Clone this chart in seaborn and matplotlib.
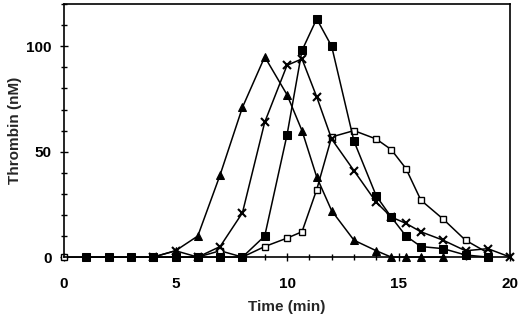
import pandas as pd
import matplotlib.pyplot as plt
import seaborn as sns
from matplotlib.ticker import MultipleLocator

# Thrombin generation curves
t_tri = [4, 5, 6, 7, 8, 9, 10, 10.67, 11.33, 12, 13, 14, 14.67, 15.33, 16, 17]
y_tri = [0, 3, 10, 39, 71, 95, 77, 60, 38, 22, 8, 3, 0, 0, 0, 0]

t_cross = [4, 5, 6, 7, 8, 9, 10, 10.67, 11.33, 12, 13, 14, 14.67, 15.33, 16, 17, 18, 19, 20]
y_cross = [0, 3, 0, 5, 21, 64, 91, 94, 76, 56, 41, 26, 19, 16, 12, 8, 3, 4, 0]

t_fsq = [1, 2, 3, 4, 5, 6, 7, 8, 9, 10, 10.67, 11.33, 12, 13, 14, 14.67, 15.33, 16, 17, 18, 19]
y_fsq = [0, 0, 0, 0, 0, 0, 0, 0, 10, 58, 98, 113, 100, 55, 29, 19, 10, 5, 4, 1, 0]

t_osq = [0, 1, 2, 3, 4, 5, 6, 7, 8, 9, 10, 10.67, 11.33, 12, 13, 14, 14.67, 15.33, 16, 17, 18, 19]
y_osq = [0, 0, 0, 0, 0, 0, 0, 3, 0, 5, 9, 12, 32, 57, 60, 56, 51, 42, 27, 18, 8, 2]

sns.set_style("white")
plt.rcParams['font.family'] = ['Liberation Sans', 'DejaVu Sans']
plt.rcParams['font.weight'] = 'bold'

fig = plt.figure(figsize=(5.2, 3.17), dpi=100)
ax = fig.add_axes([0.123, 0.189, 0.858, 0.798])

common = dict(color='black', linewidth=1.1, clip_on=False)

# open squares first so the filled markers sit on top
sns.lineplot(x=t_osq, y=y_osq, ax=ax, marker='s', markersize=4.6,
             markerfacecolor='white', markeredgecolor='black', markeredgewidth=1.0, **common)
sns.lineplot(x=t_tri, y=y_tri, ax=ax, marker='^', markersize=6.2,
             markerfacecolor='black', markeredgecolor='black', **common)
sns.lineplot(x=t_fsq, y=y_fsq, ax=ax, marker='s', markersize=5.2,
             markerfacecolor='black', markeredgecolor='black', **common)
sns.lineplot(x=t_cross, y=y_cross, ax=ax, marker='x', markersize=6,
             markeredgewidth=1.5, markeredgecolor='black', **common)

ax.set_xlim(0, 20)
ax.set_ylim(0, 120)
ax.xaxis.set_major_locator(MultipleLocator(5))
ax.xaxis.set_minor_locator(MultipleLocator(1))
ax.yaxis.set_major_locator(MultipleLocator(50))
ax.yaxis.set_minor_locator(MultipleLocator(10))

ax.tick_params(axis='both', which='both', direction='inout', colors='black',
               labelsize=11, width=1.0)
ax.tick_params(axis='both', which='major', length=6)
ax.tick_params(axis='both', which='minor', length=4)
ax.tick_params(axis='x', which='major', pad=11)
ax.tick_params(axis='y', which='major', pad=6)
ax.tick_params(axis='x', which='both', bottom=True)
ax.tick_params(axis='y', which='both', left=True)

for s in ax.spines.values():
    s.set_color('black')
    s.set_linewidth(1.2)
    s.set_visible(True)

ax.set_xlabel('Time (min)', fontsize=11, fontweight='bold', labelpad=7)
ax.set_ylabel('Thrombin (nM)', fontsize=11, fontweight='bold', labelpad=3)
ax.grid(False)

plt.savefig('out.png', dpi=100)
plt.close()
